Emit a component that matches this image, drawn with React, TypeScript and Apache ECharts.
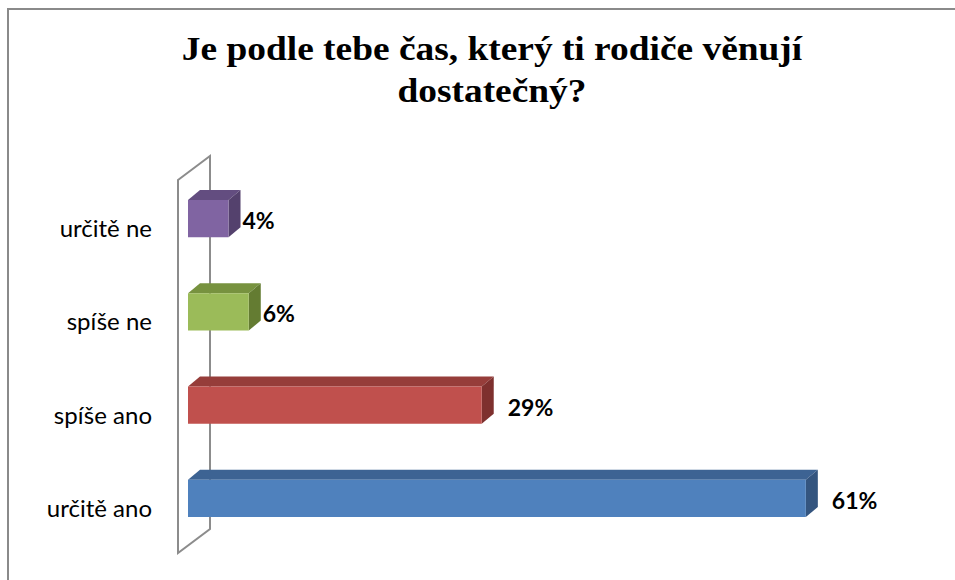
import React, { useEffect, useRef } from "react";
import * as echarts from "echarts";

const titleText = "Je podle tebe čas, který ti rodiče věnují\ndostatečný?";
const categories = ["určitě ano", "spíše ano", "spíše ne", "určitě ne"];
const values = [61, 29, 6, 4];
const valueLabels = ["61%", "29%", "6%", "4%"];
const frontColors = ["#4F81BD", "#C0504D", "#9BBB59", "#8064A2"];
const topColors = ["#3D6393", "#963D3A", "#77923F", "#634D80"];
const sideColors = ["#34557F", "#7E302E", "#647C32", "#54416D"];

export default function App() {
  const ref = useRef<HTMLDivElement>(null);
  useEffect(() => {
    if (!ref.current) return;
    const chart = echarts.init(ref.current, null, { renderer: "svg" });
    const DX = 12;
    const DY = 10;
    const SHIFT = -9;
    chart.setOption({
      animation: false,
      backgroundColor: "#ffffff",
      grid: { left: 188, right: 58, top: 181, height: 373 },
      xAxis: { type: "value", min: 0, max: 70, show: false },
      yAxis: {
        type: "category",
        data: categories,
        axisLine: { show: false },
        axisTick: { show: false },
        splitLine: { show: false },
        axisLabel: {
          margin: 36,
          color: "#000000",
          fontFamily: "Lato",
          fontSize: 24,
        },
      },
      graphic: [
        {
          type: "polyline",
          z: 0,
          shape: { points: [[8, 580], [8, 9], [955, 9]] },
          style: { stroke: "#8a8a8a", lineWidth: 2, fill: null },
        },
        {
          type: "polygon",
          z: 0,
          shape: { points: [[178, 180], [210, 156], [210, 529], [178, 553]] },
          style: { stroke: "#8c8c8c", lineWidth: 2, fill: "none" },
        },
        {
          type: "text",
          z: 10,
          x: 492,
          y: 28,
          scaleX: 1.1,
          style: {
            text: titleText,
            font: "bold 34px 'Liberation Serif'",
            lineHeight: 42,
            fill: "#000000",
            textAlign: "center",
            textVerticalAlign: "top",
          },
        },
      ],
      series: [
        {
          type: "custom",
          z: 5,
          encode: { x: 0, y: 1 },
          data: values.map((v, i) => [v, i]),
          renderItem: (params: any, api: any) => {
            const idx = params.dataIndex;
            const v = api.value(0);
            const c = api.value(1);
            const s = api.coord([0, c]);
            const e = api.coord([v, c]);
            const h = api.size([0, 1])[1] * 0.4;
            const cy = s[1] + SHIFT;
            const top = cy - h / 2;
            const bottom = cy + h / 2;
            const x0 = s[0];
            const x1 = e[0];
            const lbl = valueLabels[idx];
            const gap = lbl.length > 2 ? 26 : 14;
            return {
              type: "group",
              children: [
                {
                  type: "polygon",
                  shape: { points: [[x0, top], [x0 + DX, top - DY], [x1 + DX, top - DY], [x1, top]] },
                  style: { fill: topColors[idx] },
                },
                {
                  type: "polygon",
                  shape: { points: [[x1, top], [x1 + DX, top - DY], [x1 + DX, bottom - DY], [x1, bottom]] },
                  style: { fill: sideColors[idx] },
                },
                {
                  type: "rect",
                  shape: { x: x0, y: top, width: x1 - x0, height: h },
                  style: { fill: frontColors[idx] },
                },
                {
                  type: "text",
                  x: x1 + gap,
                  y: cy + 1.5,
                  style: {
                    text: lbl,
                    fill: "#000000",
                    font: "bold 23px Lato",
                    textAlign: "left",
                    textVerticalAlign: "middle",
                  },
                },
              ],
            };
          },
        },
      ],
    });
    return () => chart.dispose();
  }, []);
  return (
    <div
      ref={ref}
      style={{ position: "fixed", left: 0, top: 0, width: 955, height: 580 }}
    />
  );
}
